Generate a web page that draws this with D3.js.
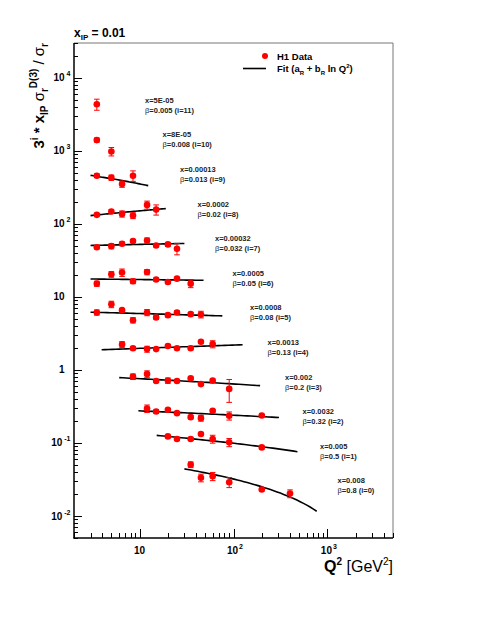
<!DOCTYPE html>
<html>
<head>
<meta charset="utf-8">
<script src="https://cdn.jsdelivr.net/npm/d3@7"></script>
<style>
  html, body { margin: 0; padding: 0; background: #fff; }
  svg { display: block; font-family: "Liberation Sans", Arial, Helvetica, sans-serif; }
</style>
</head>
<body>
<svg id="chart" width="480" height="621"></svg>
<script>
// ---- data ----
const seriesIndex = [11, 10, 9, 8, 7, 6, 5, 4, 3, 2, 1, 0];
const xLabels = ["5E-05", "8E-05", "0.00013", "0.0002", "0.00032", "0.0005", "0.0008", "0.0013", "0.002", "0.0032", "0.005", "0.008"];
const betaLabels = ["0.005", "0.008", "0.013", "0.02", "0.032", "0.05", "0.08", "0.13", "0.2", "0.32", "0.5", "0.8"];

const q2Values = [
  [3.5],
  [3.5, 5],
  [3.5, 5, 6.5, 8.5],
  [3.5, 5, 6.5, 8.5, 12, 15],
  [3.5, 5, 6.5, 8.5, 12, 15, 20, 25],
  [3.5, 5, 6.5, 8.5, 12, 15, 20, 25, 35],
  [3.5, 5, 6.5, 8.5, 12, 15, 20, 25, 35, 45],
  [6.5, 8.5, 12, 15, 20, 25, 35, 45, 60],
  [8.5, 12, 15, 20, 25, 35, 45, 60, 90],
  [12, 15, 20, 25, 35, 45, 60, 90, 200],
  [20, 25, 35, 45, 60, 90, 200],
  [35, 45, 60, 90, 200, 400]
];
const sigmaValues = [
  [4350],
  [1404, 982],
  [457, 430, 352, 457],
  [133, 148, 137, 130, 182, 157],
  [48, 49.6, 53.5, 58.2, 59.2, 50.7, 52.4, 45.7],
  [15.2, 20.4, 21.6, 16.4, 21.9, 17.3, 16.0, 17.8, 15.2],
  [6.13, 7.93, 6.59, 4.8, 6.13, 5.24, 5.63, 6.13, 5.81, 5.76],
  [2.24, 1.98, 1.93, 1.93, 2.13, 1.98, 1.98, 2.43, 2.26],
  [0.81, 0.882, 0.705, 0.715, 0.705, 0.77, 0.64, 0.715, 0.55],
  [0.296, 0.27, 0.285, 0.256, 0.226, 0.219, 0.276, 0.236, 0.238],
  [0.123, 0.1135, 0.1135, 0.133, 0.1135, 0.102, 0.087],
  [0.0505, 0.0334, 0.035, 0.029, 0.0231, 0.0203]
];
const sigmaErrors = [
  [750],
  [90, 130],
  [25, 35, 35, 75],
  [6, 8, 13, 12, 23, 25],
  [2.5, 4, 3, 3, 5, 2.5, 3, 8],
  [1.2, 1.8, 2.5, 1.2, 1.8, 0.8, 0.8, 0.8, 1.8],
  [0.5, 0.8, 0.3, 0.4, 0.6, 0.3, 0.3, 0.3, 0.3, 0.6],
  [0.2, 0.1, 0.18, 0.08, 0.08, 0.08, 0.08, 0.1, 0.25],
  [0.07, 0.09, 0.03, 0.06, 0.03, 0.03, 0.03, 0.03, 0.19],
  [0.035, 0.015, 0.01, 0.01, 0.012, 0.02, 0.01, 0.03, 0.01],
  [0.005, 0.005, 0.005, 0.005, 0.014, 0.013, 0.004],
  [0.0045, 0.004, 0.0045, 0.0045, 0.001, 0.0025]
];
// fit a + b ln Q^2 (already multiplied by 3^i); null = no fit
const fitA = [null, null, 561.4, 110.95, 49.13, 17.88, 6.41, 1.763, 0.876, 0.311, 0.1672, 0.0783];
const fitB = [null, null, -90.45, 17.34, 1.427, -0.2525, -0.21, 0.0926, -0.05065, -0.01537, -0.01477, -0.01003];
const fitQ2Min = [null, null, 3, 3, 3, 3, 3, 3.94, 6.06, 9.7, 15.2, 30];
const fitQ2Max = [null, null, 12.35, 19, 30, 48, 76, 125, 192, 305, 480, 770];

const xDomain = [2, 5000];
const yDomain = [0.005, 30000];
const yMajorTicks = [
  {v: 0.01, base: "10", exp: "-2"},
  {v: 0.1, base: "10", exp: "-1"},
  {v: 1, base: "1", exp: null},
  {v: 10, base: "10", exp: null},
  {v: 100, base: "10", exp: "2"},
  {v: 1000, base: "10", exp: "3"},
  {v: 10000, base: "10", exp: "4"}
];
const xMajorTicks = [
  {v: 10, base: "10", exp: null},
  {v: 100, base: "10", exp: "2"},
  {v: 1000, base: "10", exp: "3"}
];

// ---- layout ----
const svg = d3.select("#chart");
const L = 74, R = 393, T = 43, B = 538;
const x = d3.scaleLog().domain(xDomain).range([L, R]);
const y = d3.scaleLog().domain(yDomain).range([B, T]);
const font = '"Liberation Sans", Arial, Helvetica, sans-serif';

svg.append("rect").attr("width", 480).attr("height", 621).attr("fill", "#fff");

// frame (top/right gray)
svg.append("line").attr("x1", L).attr("x2", R).attr("y1", T).attr("y2", T).attr("stroke", "#777").attr("stroke-width", 1);
svg.append("line").attr("x1", R).attr("x2", R).attr("y1", T).attr("y2", B).attr("stroke", "#777").attr("stroke-width", 1);

// minor ticks generation
function minorTicks(dom) {
  const out = [];
  const lo = Math.floor(Math.log10(dom[0])), hi = Math.ceil(Math.log10(dom[1]));
  for (let k = lo; k <= hi; k++) {
    for (let m = 1; m <= 9; m++) {
      const v = m * Math.pow(10, k);
      if (v >= dom[0] * 0.9999 && v <= dom[1] * 1.0001) out.push({v, major: m === 1});
    }
  }
  return out;
}

const axes = svg.append("g");
// y ticks (inside)
minorTicks(yDomain).forEach(t => {
  const yy = Math.round(y(t.v)) + 0.5;
  axes.append("line").attr("x1", L).attr("x2", L + (t.major ? 8 : 4))
    .attr("y1", yy).attr("y2", yy).attr("stroke", "#000").attr("stroke-width", 1);
});
// x ticks (inside)
minorTicks(xDomain).forEach(t => {
  const xx = Math.round(x(t.v)) + 0.5;
  axes.append("line").attr("x1", xx).attr("x2", xx)
    .attr("y1", B).attr("y2", B - (t.major ? 9 : 5)).attr("stroke", "#000").attr("stroke-width", 1);
});
// axis lines
axes.append("line").attr("x1", L).attr("x2", L).attr("y1", T).attr("y2", B + 0.5).attr("stroke", "#000").attr("stroke-width", 1.5);
axes.append("line").attr("x1", L - 0.5).attr("x2", R).attr("y1", B).attr("y2", B).attr("stroke", "#000").attr("stroke-width", 1.5);

// y tick labels
yMajorTicks.forEach(t => {
  const yy = y(t.v);
  if (t.exp) {
    const tx = axes.append("text").attr("x", 70.5).attr("y", yy + 3.5).attr("text-anchor", "end")
      .attr("font-size", 10).attr("font-weight", "bold").attr("fill", "#000");
    tx.append("tspan").text(t.base);
    tx.append("tspan").attr("dx", 2).attr("dy", -5).attr("font-size", 7).text(t.exp);
  } else {
    axes.append("text").attr("x", 64.5).attr("y", yy + 3.5).attr("text-anchor", "end")
      .attr("font-size", 10).attr("font-weight", "bold").attr("fill", "#000").text(t.base);
  }
});
// x tick labels
xMajorTicks.forEach(t => {
  const xx = x(t.v);
  const tx = axes.append("text").attr("x", xx + (t.exp ? 1.5 : 0)).attr("y", 554).attr("text-anchor", "middle")
    .attr("font-size", 10).attr("font-weight", "bold").attr("fill", "#000");
  tx.append("tspan").text(t.base);
  if (t.exp) tx.append("tspan").attr("dx", 1).attr("dy", -5).attr("font-size", 7).text(t.exp);
});

// title
const title = svg.append("text").attr("x", 74).attr("y", 37).attr("font-size", 12).attr("font-weight", "bold").attr("fill", "#000");
title.append("tspan").text("x");
title.append("tspan").attr("dy", 3).attr("font-size", 8).text("IP");
title.append("tspan").attr("dy", -3).text(" = 0.01");

// y axis title (rotated)
const yt = svg.append("text").attr("transform", "translate(44," + T + ") rotate(-90)")
  .attr("text-anchor", "end").attr("font-size", 15).attr("font-weight", "bold").attr("fill", "#000");
yt.append("tspan").text("3");
yt.append("tspan").attr("dy", -6).attr("font-size", 10).text("i");
yt.append("tspan").attr("dy", 6).text(" * x");
yt.append("tspan").attr("dy", 4).attr("font-size", 10).text("IP");
yt.append("tspan").attr("dy", -4).attr("font-weight", "normal").text(" σ");
yt.append("tspan").attr("dy", 4).attr("font-size", 10).text("r");
yt.append("tspan").attr("dy", -11).attr("font-size", 10).text("D(3)");
yt.append("tspan").attr("dy", 7).attr("font-weight", "normal").text(" / σ");
yt.append("tspan").attr("dy", 4).attr("font-size", 10).text("r");

// x axis title
const xt = svg.append("text").attr("x", R).attr("y", 572).attr("text-anchor", "end")
  .attr("font-size", 16).attr("font-weight", "bold").attr("fill", "#000");
xt.append("tspan").text("Q");
xt.append("tspan").attr("dy", -7).attr("font-size", 10).text("2");
xt.append("tspan").attr("dy", 7).attr("font-weight", "normal").text(" [GeV");
xt.append("tspan").attr("dy", -7).attr("font-size", 10).attr("font-weight", "normal").text("2");
xt.append("tspan").attr("dy", 7).attr("font-weight", "normal").text("]");

// plot contents
const plot = svg.append("g");
const fitLine = d3.line().x(d => x(d[0])).y(d => y(d[1]));

seriesIndex.forEach((iv, s) => {
  // fit curve
  if (fitA[s] !== null) {
    const lo = Math.log(fitQ2Min[s]), hi = Math.log(fitQ2Max[s]);
    const pts = d3.range(0, 41).map(k => {
      const q = Math.exp(lo + (hi - lo) * k / 40);
      return [q, fitA[s] + fitB[s] * Math.log(q)];
    });
    plot.append("path").attr("d", fitLine(pts)).attr("fill", "none").attr("stroke", "#000").attr("stroke-width", 1.6);
  }
  // data points
  q2Values[s].forEach((q, j) => {
    const v = sigmaValues[s][j], e = sigmaErrors[s][j];
    const cx = x(q), cy = y(v);
    const y1 = y(v + e), y0 = y(Math.max(v - e, 1e-6));
    plot.append("line").attr("x1", cx).attr("x2", cx).attr("y1", y0).attr("y2", y1).attr("stroke", "#f00").attr("stroke-width", 1);
    [y0, y1].forEach(yy => plot.append("line").attr("x1", cx - 2.8).attr("x2", cx + 2.8).attr("y1", yy).attr("y2", yy)
      .attr("stroke", "#f00").attr("stroke-width", 1));
    plot.append("circle").attr("cx", cx).attr("cy", cy).attr("r", 3.3).attr("fill", "#f00");
  });
  // labels
  const lx = 145 + (11 - iv) * 17.5;
  const ly = 102.7 + (11 - iv) * 34.6;
  plot.append("text").attr("x", lx).attr("y", ly).attr("font-size", 7.5).attr("font-weight", "bold").attr("fill", "#222")
    .text("x=" + xLabels[s]);
  const bt = plot.append("text").attr("x", lx).attr("y", ly + 10).attr("font-size", 7.5).attr("font-weight", "bold").attr("fill", "#222");
  bt.append("tspan").attr("font-weight", "normal").text("β");
  bt.append("tspan").text("=" + betaLabels[s] + " (i=" + iv + ")");
});

// legend
const lg = svg.append("g");
lg.append("circle").attr("cx", 265).attr("cy", 56).attr("r", 3).attr("fill", "#f00");
lg.append("text").attr("x", 277).attr("y", 59.5).attr("font-size", 9.5).attr("font-weight", "bold").attr("fill", "#000").text("H1 Data");
lg.append("line").attr("x1", 243).attr("x2", 266).attr("y1", 68.5).attr("y2", 68.5).attr("stroke", "#000").attr("stroke-width", 1.6);
const ft = lg.append("text").attr("x", 277).attr("y", 72).attr("font-size", 9.5).attr("font-weight", "bold").attr("fill", "#000");
ft.append("tspan").text("Fit (a");
ft.append("tspan").attr("dy", 2.5).attr("font-size", 6).text("R");
ft.append("tspan").attr("dy", -2.5).text(" + b");
ft.append("tspan").attr("dy", 2.5).attr("font-size", 6).text("R");
ft.append("tspan").attr("dy", -2.5).text(" ln Q");
ft.append("tspan").attr("dy", -4).attr("font-size", 6).text("2");
ft.append("tspan").attr("dy", 4).text(")");
</script>
</body>
</html>
